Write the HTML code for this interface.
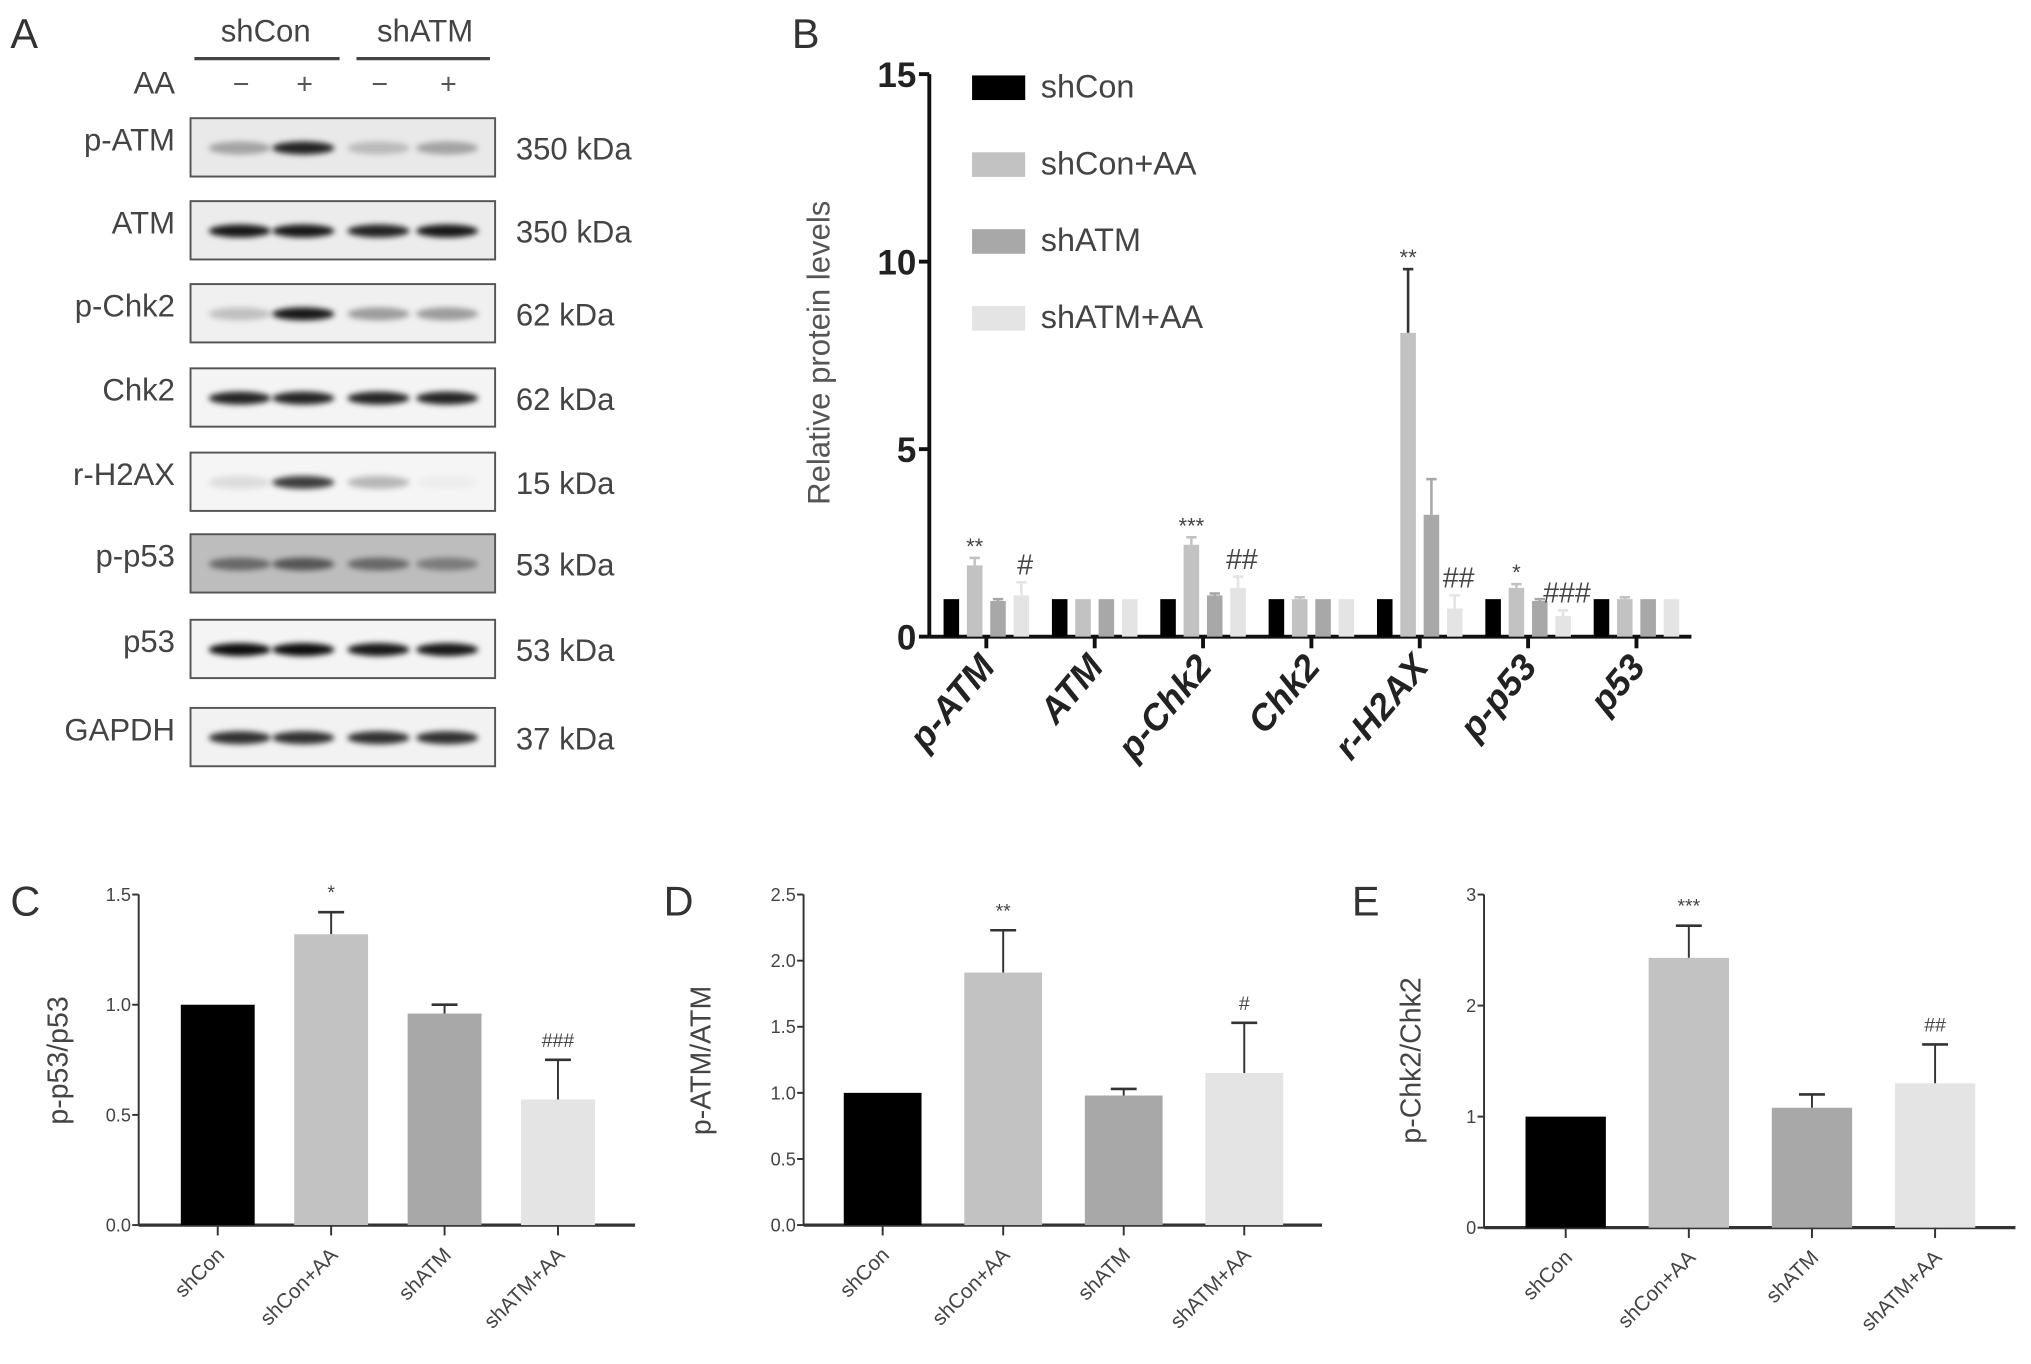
<!DOCTYPE html>
<html><head><meta charset="utf-8"><style>
html,body{margin:0;padding:0;background:#fff;}
svg{display:block;font-family:"Liberation Sans",sans-serif;}
</style></head><body>
<svg id="fig" width="2031" height="1364" viewBox="0 0 1567 1052" xmlns="http://www.w3.org/2000/svg">
<defs><filter id="blur" x="-20%" y="-100%" width="140%" height="300%"><feGaussianBlur stdDeviation="2.2"/></filter></defs>
<g id="root"></g>
</svg>
<script>
// Panel B data
const bCategories = ['p-ATM','ATM','p-Chk2','Chk2','r-H2AX','p-p53','p53'];
const bSeriesNames = ['shCon','shCon+AA','shATM','shATM+AA'];
const bShCon = [1,1,1,1,1,1,1];
const bShConAA = [1.9,1,2.45,1,8.1,1.3,1];
const bShATM = [0.95,1,1.1,1,3.25,0.95,1];
const bShATMAA = [1.1,1,1.3,1,0.75,0.55,1];
const bErrShConAA = [2.1,1,2.65,1.05,9.8,1.4,1.05];
const bErrShATM = [1,1,1.15,1,4.2,1,1];
const bErrShATMAA = [1.45,1,1.6,1,1.1,0.7,1];
const bTicks = [0,5,10,15];
// Panels C, D, E data
const groupLabels = ['shCon','shCon+AA','shATM','shATM+AA'];
const cValues = [1,1.32,0.96,0.57];
const cErr = [1,1.42,1.0,0.75];
const cTicks = ['0.0','0.5','1.0','1.5'];
const cSig = ['','*','','###'];
const dValues = [1,1.91,0.98,1.15];
const dErr = [1,2.23,1.03,1.53];
const dTicks = ['0.0','0.5','1.0','1.5','2.0','2.5'];
const dSig = ['','**','','#'];
const eValues = [1,2.43,1.08,1.3];
const eErr = [1,2.72,1.2,1.65];
const eTicks = ['0','1','2','3'];
const eSig = ['','***','','##'];

const colors = ['#000000','#c2c2c2','#a8a8a8','#e4e4e4'];
const NS='http://www.w3.org/2000/svg';
const root=document.getElementById('root');
function el(tag,attrs,parent,text){const e=document.createElementNS(NS,tag);for(const k in attrs)e.setAttribute(k,attrs[k]);if(text!==undefined)e.textContent=text;(parent||root).appendChild(e);return e;}

// ---------- Panel A ----------
const gA=el('g',{});


let t;
t=el('text',{x:8,y:37,'font-size':32,fill:'#333'},gA,'A');
t=el('text',{x:205,y:32,'font-size':24,fill:'#444','text-anchor':'middle'},gA,'shCon');
t=el('text',{x:328,y:32,'font-size':24,fill:'#444','text-anchor':'middle'},gA,'shATM');
el('line',{x1:150,y1:45,x2:262,y2:45,stroke:'#444','stroke-width':2.5},gA);
el('line',{x1:275,y1:45,x2:378,y2:45,stroke:'#444','stroke-width':2.5},gA);
t=el('text',{x:135,y:72,'font-size':24,fill:'#444','text-anchor':'end'},gA,'AA');
const lanes=[183,232,290,343];
['−','+','−','+'].forEach((s,i)=>{el('text',{x:lanes[i]+3,y:72,'font-size':22,fill:'#555','text-anchor':'middle'},gA,s);});
const blots=[['p-ATM','350 kDa',91,[0.3,0.85,0.2,0.3],'#e9e9e9'],['ATM','350 kDa',155,[0.9,0.9,0.85,0.9],'#ececec'],['p-Chk2','62 kDa',219,[0.2,0.9,0.35,0.35],'#f0f0f0'],['Chk2','62 kDa',284,[0.85,0.85,0.85,0.85],'#f4f4f4'],['r-H2AX','15 kDa',349,[0.1,0.75,0.25,0.03],'#f5f5f5'],['p-p53','53 kDa',412,[0.45,0.55,0.45,0.35],'#bdbdbd'],['p53','53 kDa',478,[0.95,0.95,0.9,0.9],'#f4f4f4'],['GAPDH','37 kDa',546,[0.8,0.8,0.8,0.8],'#f2f2f2']];
blots.forEach(b=>{
  const g=el('g',{},gA);
  
  
  el('rect',{x:147,y:b[2],width:235,height:45,fill:b[4],stroke:'#555','stroke-width':1.5},g);
  b[3].forEach((v,i)=>{el('ellipse',{cx:lanes[i]+2,cy:b[2]+23,rx:24,ry:5,fill:'#000','fill-opacity':v,filter:'url(#blur)'},g);});
  el('text',{x:135,y:b[2]+25,'font-size':24,fill:'#444','text-anchor':'end'},g,b[0]);
  el('text',{x:398,y:b[2]+32,'font-size':24,fill:'#444'},g,b[1]);
});

// ---------- Panel B ----------
const gB=el('g',{});


t=el('text',{x:611,y:37,'font-size':32,fill:'#333'},gB,'B');
const bX0=717,bY0=491,bYtop=57,bMax=15,bXend=1305;
const by=v=>bY0-(v/bMax)*(bY0-bYtop);
const bStep=83.6,bFirst=761;
const bx=i=>bFirst+i*bStep;
el('line',{x1:bX0,y1:bYtop,x2:bX0,y2:bY0,stroke:'#111','stroke-width':3},gB);
el('line',{x1:bX0,y1:bY0,x2:bXend,y2:bY0,stroke:'#111','stroke-width':3},gB);
bTicks.forEach(v=>{el('line',{x1:bX0-8,y1:by(v),x2:bX0,y2:by(v),stroke:'#111','stroke-width':3},gB);
  t=el('text',{x:bX0-10,y:by(v)+10,'font-size':27,'font-weight':'bold',fill:'#222','text-anchor':'end'},gB,String(v));});
t=el('text',{transform:'translate(640,272) rotate(-90)','font-size':24,fill:'#555','text-anchor':'middle'},gB,'Relative protein levels');
const bSeries=[bShCon,bShConAA,bShATM,bShATMAA];
const bErrs=[null,bErrShConAA,bErrShATM,bErrShATMAA];
const offs=[-27,-9,9,27];
bCategories.forEach((c,i)=>{
  el('line',{x1:bx(i),y1:bY0,x2:bx(i),y2:bY0+9,stroke:'#111','stroke-width':3},gB);
  t=el('text',{transform:`translate(${bx(i)+8},${bY0+24}) rotate(-50)`,'font-size':28,'font-weight':'bold','font-style':'italic',fill:'#222','text-anchor':'end'},gB,c);
  
  bSeries.forEach((s,k)=>{
    const cx=bx(i)+offs[k];
    if(bErrs[k]&&bErrs[k][i]>s[i]+0.02){el('line',{x1:cx,y1:by(s[i]),x2:cx,y2:by(bErrs[k][i]),stroke:k===1&&i===4?'#333':colors[k],'stroke-width':2},gB);
      el('line',{x1:cx-4,y1:by(bErrs[k][i]),x2:cx+4,y2:by(bErrs[k][i]),stroke:k===1&&i===4?'#333':colors[k],'stroke-width':2},gB);}
    const r=el('rect',{x:cx-6,y:by(s[i]),width:12,height:bY0-by(s[i]),fill:colors[k]},gB);
    
    
  });
});
const bSig=[[0,1,'**'],[0,3,'#'],[2,1,'***'],[2,3,'##'],[4,1,'**'],[4,3,'##'],[5,1,'*'],[5,3,'###']];
bSig.forEach(s=>{const errs=bErrs[s[1]];const top=errs[s[0]];const big=s[2].includes('#');
  t=el('text',{x:bx(s[0])+offs[s[1]]+(big?3:0),y:by(top)-(big?6:3),'font-size':big?22:17,fill:'#444','text-anchor':'middle'},gB,s[2]);});
bSeriesNames.forEach((n,k)=>{
  const g=el('g',{},gB);
  
  
  const y=58+k*59.3;
  el('rect',{x:750,y:y,width:41,height:19,fill:colors[k]},g);
  el('text',{x:803,y:y+17,'font-size':25,fill:'#444'},g,n);
});

// ---------- Panels C, D, E ----------
function small(cfg){
  const g=el('g',{});
  
  
  t=el('text',{x:cfg.letterX,y:706,'font-size':32,fill:'#333'},g,cfg.letter);
  const x0=cfg.x0,y0=cfg.y0,yt=690,max=parseFloat(cfg.ticks[cfg.ticks.length-1]);
  const y=v=>y0-(v/max)*(y0-yt);
  el('line',{x1:x0,y1:yt,x2:x0,y2:y0,stroke:'#333','stroke-width':1.5},g);
  el('line',{x1:x0,y1:y0,x2:cfg.xEnd,y2:y0,stroke:'#333','stroke-width':2.5},g);
  cfg.ticks.forEach(tk=>{const v=parseFloat(tk);el('line',{x1:x0-5,y1:y(v),x2:x0,y2:y(v),stroke:'#333','stroke-width':1.5},g);
    t=el('text',{x:x0-6,y:y(v)+5,'font-size':14,fill:'#444','text-anchor':'end'},g,tk);});
  t=el('text',{transform:`translate(${cfg.titleX},${cfg.titleY}) rotate(-90)`,'font-size':22,fill:'#444','text-anchor':'middle'},g,cfg.title);
  const cx=i=>cfg.first+cfg.step*i;
  cfg.values.forEach((v,i)=>{
    const e=cfg.err[i];
    if(e>v+0.005){el('line',{x1:cx(i),y1:y(v),x2:cx(i),y2:y(e),stroke:'#333','stroke-width':1.5},g);
      el('line',{x1:cx(i)-10,y1:y(e),x2:cx(i)+10,y2:y(e),stroke:'#333','stroke-width':2},g);}
    const r=el('rect',{x:cx(i)-cfg.bw/2,y:y(v),width:cfg.bw,height:y0-y(v),fill:colors[i]},g);
    
    
    el('line',{x1:cx(i),y1:y0,x2:cx(i),y2:y0+8,stroke:'#333','stroke-width':1.5},g);
    t=el('text',{transform:`translate(${cx(i)+6},${y0+24}) rotate(-45)`,'font-size':16,fill:'#444','text-anchor':'end'},g,groupLabels[i]);
    if(cfg.sig[i]){t=el('text',{x:cx(i),y:y(e)-10,'font-size':15,fill:'#444','text-anchor':'middle'},g,cfg.sig[i]);}
  });
}
small({name:'panel-c-chart',letter:'C',letterX:8,x0:107,y0:945,xEnd:490,first:168,step:87.5,ticks:cTicks,values:cValues,err:cErr,sig:cSig,title:'p-p53/p53',titleX:52,titleY:818,bw:57});
small({name:'panel-d-chart',letter:'D',letterX:512,x0:620,y0:945,xEnd:1020,first:681,step:93,ticks:dTicks,values:dValues,err:dErr,sig:dSig,title:'p-ATM/ATM',titleX:548,titleY:818,bw:60});
small({name:'panel-e-chart',letter:'E',letterX:1043,x0:1145,y0:947,xEnd:1555,first:1208,step:95,ticks:eTicks,values:eValues,err:eErr,sig:eSig,title:'p-Chk2/Chk2',titleX:1096,titleY:818,bw:62});
</script>
</body></html>
